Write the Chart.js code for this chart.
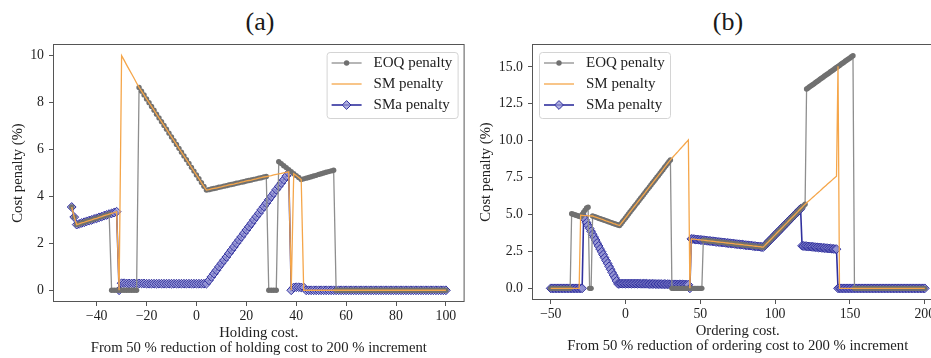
<!DOCTYPE html>
<html lang="en">
<head>
  <meta charset="UTF-8" />
  <title>Cost penalty sensitivity</title>
  <script src="https://cdn.jsdelivr.net/npm/chart.js@4"></script>
  <style>
    body {
      margin: 0;
      width: 931px;
      height: 358px;
      overflow: hidden;
      position: relative;
      background: #fff;
      font-family: 'Liberation Serif', serif;
    }
    canvas { position: absolute; top: 0; }
    .tag {
      position: absolute;
      top: 9px;
      font-size: 26px;
      line-height: 26px;
      color: #1a1a1a;
      transform: translateX(-50%);
    }
  </style>
</head>
<body>
  <div class="tag" style="left:260px">(a)</div>
  <div class="tag" style="left:728px">(b)</div>
  <canvas id="chartA" style="left:0" width="470" height="358"></canvas>
  <canvas id="chartB" style="left:465px" width="484" height="358"></canvas>

  <script>
    // ---- panel (a): holding cost ----
    const xA = [
      -50,-49,-48,-47,-46,-45,-44,-43,-42,-41,
      -40,-39,-38,-37,-36,-35,-34,-33,-32,-31,
      -30,-29,-28,-27,-26,-25,-24,-23,-22,-21,
      -20,-19,-18,-17,-16,-15,-14,-13,-12,-11,
      -10,-9,-8,-7,-6,-5,-4,-3,-2,-1,
      0,1,2,3,4,5,6,7,8,9,
      10,11,12,13,14,15,16,17,18,19,
      20,21,22,23,24,25,26,27,28,29,
      30,31,32,33,34,35,36,37,38,39,
      40,41,42,43,44,45,46,47,48,49,
      50,51,52,53,54,55,56,57,58,59,
      60,61,62,63,64,65,66,67,68,69,
      70,71,72,73,74,75,76,77,78,79,
      80,81,82,83,84,85,86,87,88,89,
      90,91,92,93,94,95,96,97,98,99,
      100
    ];
    const eoqA = [
      3.55,3.12,2.80,2.83,2.87,2.90,2.94,2.97,3.00,3.04,
      3.07,3.11,3.14,3.18,3.21,3.25,0,0,0,0,
      0,0,0,0,0,0,0,8.65,8.49,8.33,
      8.16,8.00,7.84,7.68,7.51,7.35,7.19,7.03,6.87,6.70,
      6.54,6.38,6.22,6.05,5.89,5.73,5.57,5.41,5.24,5.08,
      4.92,4.76,4.59,4.43,4.27,4.29,4.32,4.34,4.36,4.39,
      4.41,4.44,4.46,4.49,4.51,4.53,4.56,4.58,4.61,4.63,
      4.66,4.68,4.70,4.73,4.75,4.78,4.80,4.83,4.85,0,
      0,0,0,5.48,5.40,5.31,5.23,5.14,5.06,4.97,
      4.89,4.81,4.72,4.75,4.78,4.81,4.84,4.87,4.90,4.94,
      4.97,5.00,5.03,5.06,5.09,5.12,0,0,0,0,
      0,0,0,0,0,0,0,0,0,0,
      0,0,0,0,0,0,0,0,0,0,
      0,0,0,0,0,0,0,0,0,0,
      0,0,0,0,0,0,0,0,0,0,
      0
    ];
    const smA = [
      3.55,3.12,2.80,2.83,2.87,2.90,2.94,2.97,3.00,3.04,
      3.07,3.11,3.14,3.18,3.21,3.25,3.28,3.31,3.35,0,
      10.0,9.81,9.61,9.42,9.23,9.04,8.84,8.65,8.49,8.33,
      8.16,8.00,7.84,7.68,7.51,7.35,7.19,7.03,6.87,6.70,
      6.54,6.38,6.22,6.05,5.89,5.73,5.57,5.41,5.24,5.08,
      4.92,4.76,4.59,4.43,4.27,4.29,4.32,4.34,4.36,4.39,
      4.41,4.44,4.46,4.49,4.51,4.53,4.56,4.58,4.61,4.63,
      4.66,4.68,4.70,4.73,4.75,4.78,4.80,4.83,4.85,4.87,
      4.89,4.92,4.94,4.96,4.98,5.01,5.03,5.05,0,4.97,
      4.89,4.81,4.72,0,0,0,0,0,0,0,
      0,0,0,0,0,0,0,0,0,0,
      0,0,0,0,0,0,0,0,0,0,
      0,0,0,0,0,0,0,0,0,0,
      0,0,0,0,0,0,0,0,0,0,
      0,0,0,0,0,0,0,0,0,0,
      0
    ];
    const smaA = [
      3.55,3.12,2.80,2.83,2.87,2.90,2.94,2.97,3.00,3.04,
      3.07,3.11,3.14,3.18,3.21,3.25,3.28,3.31,3.35,0,
      0.30,0.30,0.29,0.29,0.29,0.29,0.29,0.29,0.29,0.29,
      0.28,0.28,0.28,0.28,0.28,0.28,0.28,0.28,0.28,0.28,
      0.28,0.28,0.28,0.28,0.28,0.28,0.28,0.28,0.28,0.28,
      0.28,0.28,0.28,0.28,0.28,0.42,0.57,0.71,0.85,1.00,
      1.14,1.28,1.42,1.57,1.71,1.85,2.00,2.14,2.28,2.43,
      2.57,2.71,2.85,3.00,3.14,3.28,3.43,3.57,3.71,3.86,
      4.00,4.14,4.29,4.43,4.57,4.71,4.86,5.00,0,0.12,
      0.13,0.13,0.12,0.12,0,0,0,0,0,0,
      0,0,0,0,0,0,0,0,0,0,
      0,0,0,0,0,0,0,0,0,0,
      0,0,0,0,0,0,0,0,0,0,
      0,0,0,0,0,0,0,0,0,0,
      0,0,0,0,0,0,0,0,0,0,
      0
    ];
    const xTicksA = [-40, -20, 0, 20, 40, 60, 80, 100];
    const yTicksA = [0, 2, 4, 6, 8, 10];

    // ---- panel (b): ordering cost ----
    const xB = [
      -50,-49,-48,-47,-46,-45,-44,-43,-42,-41,
      -40,-39,-38,-37,-36,-35,-34,-33,-32,-31,
      -30,-29,-28,-27,-26,-25,-24,-23,-22,-21,
      -20,-19,-18,-17,-16,-15,-14,-13,-12,-11,
      -10,-9,-8,-7,-6,-5,-4,-3,-2,-1,
      0,1,2,3,4,5,6,7,8,9,
      10,11,12,13,14,15,16,17,18,19,
      20,21,22,23,24,25,26,27,28,29,
      30,31,32,33,34,35,36,37,38,39,
      40,41,42,43,44,45,46,47,48,49,
      50,51,52,53,54,55,56,57,58,59,
      60,61,62,63,64,65,66,67,68,69,
      70,71,72,73,74,75,76,77,78,79,
      80,81,82,83,84,85,86,87,88,89,
      90,91,92,93,94,95,96,97,98,99,
      100,101,102,103,104,105,106,107,108,109,
      110,111,112,113,114,115,116,117,118,119,
      120,121,122,123,124,125,126,127,128,129,
      130,131,132,133,134,135,136,137,138,139,
      140,141,142,143,144,145,146,147,148,149,
      150,151,152,153,154,155,156,157,158,159,
      160,161,162,163,164,165,166,167,168,169,
      170,171,172,173,174,175,176,177,178,179,
      180,181,182,183,184,185,186,187,188,189,
      190,191,192,193,194,195,196,197,198,199,
      200
    ];
    const eoqB = [
      0,0,0,0,0,0,0,0,0,0,
      0,0,0,0,5.05,5.02,4.98,4.95,4.92,4.88,
      4.85,5.00,5.15,5.30,5.45,5.50,0,0,4.90,4.86,
      4.83,4.79,4.75,4.72,4.68,4.65,4.61,4.57,4.54,4.50,
      4.47,4.43,4.39,4.36,4.32,4.29,4.25,4.38,4.51,4.64,
      4.77,4.90,5.04,5.17,5.30,5.43,5.56,5.69,5.82,5.95,
      6.08,6.21,6.34,6.47,6.61,6.74,6.87,7.00,7.13,7.26,
      7.39,7.52,7.65,7.78,7.91,8.04,8.18,8.31,8.44,8.57,
      8.70,0,0,0,0,0,0,0,0,0,
      0,0,0,0,0,0,0,0,0,0,
      0,0,3.26,3.25,3.24,3.22,3.21,3.20,3.19,3.18,
      3.17,3.15,3.14,3.13,3.12,3.11,3.10,3.08,3.07,3.06,
      3.05,3.04,3.03,3.01,3.00,2.99,2.98,2.97,2.96,2.94,
      2.93,2.92,2.91,2.90,2.89,2.87,2.86,2.85,2.84,2.83,
      2.82,2.80,2.79,2.89,3.00,3.10,3.21,3.31,3.41,3.52,
      3.62,3.73,3.83,3.93,4.04,4.14,4.25,4.35,4.45,4.56,
      4.66,4.77,4.87,4.97,5.08,5.18,5.29,5.39,5.49,5.60,
      5.70,13.50,13.57,13.65,13.72,13.79,13.86,13.94,14.01,14.08,
      14.16,14.23,14.30,14.38,14.45,14.52,14.59,14.67,14.74,14.81,
      14.89,14.96,15.03,15.10,15.18,15.25,15.32,15.40,15.47,15.54,
      15.61,15.69,15.76,0,0,0,0,0,0,0,
      0,0,0,0,0,0,0,0,0,0,
      0,0,0,0,0,0,0,0,0,0,
      0,0,0,0,0,0,0,0,0,0,
      0,0,0,0,0,0,0,0,0,0,
      0
    ];
    const smB = [
      0,0,0,0,0,0,0,0,0,0,
      0,0,0,0,0,0,0,0,0,0,
      4.95,4.94,4.93,4.93,4.92,4.91,4.91,4.90,4.90,4.86,
      4.83,4.79,4.75,4.72,4.68,4.65,4.61,4.57,4.54,4.50,
      4.47,4.43,4.39,4.36,4.32,4.29,4.25,4.38,4.51,4.64,
      4.77,4.90,5.04,5.17,5.30,5.43,5.56,5.69,5.82,5.95,
      6.08,6.21,6.34,6.47,6.61,6.74,6.87,7.00,7.13,7.26,
      7.39,7.52,7.65,7.78,7.91,8.04,8.18,8.31,8.44,8.57,
      8.70,8.81,8.93,9.04,9.15,9.26,9.38,9.49,9.60,9.71,
      9.83,9.94,10.05,0,3.35,3.34,3.33,3.31,3.30,3.29,
      3.28,3.27,3.26,3.25,3.24,3.22,3.21,3.20,3.19,3.18,
      3.17,3.15,3.14,3.13,3.12,3.11,3.10,3.08,3.07,3.06,
      3.05,3.04,3.03,3.01,3.00,2.99,2.98,2.97,2.96,2.94,
      2.93,2.92,2.91,2.90,2.89,2.87,2.86,2.85,2.84,2.83,
      2.82,2.80,2.79,2.89,3.00,3.10,3.21,3.31,3.41,3.52,
      3.62,3.73,3.83,3.93,4.04,4.14,4.25,4.35,4.45,4.56,
      4.66,4.77,4.87,4.97,5.08,5.18,5.29,5.39,5.49,5.60,
      5.70,5.79,5.88,5.97,6.06,6.15,6.24,6.33,6.42,6.51,
      6.60,6.70,6.79,6.88,6.97,7.06,7.15,7.24,7.33,7.42,
      7.51,7.60,15.05,0,0,0,0,0,0,0,
      0,0,0,0,0,0,0,0,0,0,
      0,0,0,0,0,0,0,0,0,0,
      0,0,0,0,0,0,0,0,0,0,
      0,0,0,0,0,0,0,0,0,0,
      0,0,0,0,0,0,0,0,0,0,
      0
    ];
    const smaB = [
      0,0,0,0,0,0,0,0,0,0,
      0,0,0,0,0,0,0,0,0,0,
      0,0,4.85,4.65,4.45,4.26,4.06,3.86,3.66,3.47,
      3.27,3.07,2.87,2.67,2.48,2.28,2.08,1.88,1.69,1.49,
      1.29,1.09,0.89,0.70,0.50,0.30,0.32,0.32,0.32,0.32,
      0.32,0.32,0.32,0.32,0.32,0.32,0.32,0.32,0.32,0.32,
      0.31,0.31,0.31,0.31,0.31,0.30,0.30,0.30,0.30,0.30,
      0.29,0.29,0.29,0.29,0.29,0.28,0.28,0.28,0.28,0.28,
      0.27,0.27,0.27,0.27,0.27,0.26,0.26,0.26,0.26,0.26,
      0.25,0.25,0.24,0,3.35,3.34,3.33,3.31,3.30,3.29,
      3.28,3.27,3.26,3.25,3.24,3.22,3.21,3.20,3.19,3.18,
      3.17,3.15,3.14,3.13,3.12,3.11,3.10,3.08,3.07,3.06,
      3.05,3.04,3.03,3.01,3.00,2.99,2.98,2.97,2.96,2.94,
      2.93,2.92,2.91,2.90,2.89,2.87,2.86,2.85,2.84,2.83,
      2.82,2.80,2.79,2.89,3.00,3.10,3.21,3.31,3.41,3.52,
      3.62,3.73,3.83,3.93,4.04,4.14,4.25,4.35,4.45,4.56,
      4.66,4.77,4.87,4.97,5.08,5.18,5.29,5.39,2.88,2.87,
      2.86,2.85,2.84,2.83,2.82,2.81,2.80,2.79,2.78,2.77,
      2.76,2.75,2.74,2.73,2.72,2.71,2.70,2.69,2.68,2.67,
      2.66,2.65,0,0,0,0,0,0,0,0,
      0,0,0,0,0,0,0,0,0,0,
      0,0,0,0,0,0,0,0,0,0,
      0,0,0,0,0,0,0,0,0,0,
      0,0,0,0,0,0,0,0,0,0,
      0,0,0,0,0,0,0,0,0,0,
      0
    ];
    const xTicksB = [-50, 0, 50, 100, 150, 200];
    const yTicksB = [0, 2.5, 5, 7.5, 10, 12.5, 15];

    [[xA, eoqA, smA, smaA], [xB, eoqB, smB, smaB]].forEach(set => {
      set.forEach(arr => {
        if (arr.length !== set[0].length) throw new Error('length mismatch ' + arr.length + ' vs ' + set[0].length);
      });
    });

    const FRAME = '#555';
    const TEXT = '#222';
    const GREY_LINE = '#8e8e8e';
    const GREY_PT = '#707070';
    const ORANGE = '#f5a64a';
    const BLUE = '#30309e';
    const LAVENDER = 'rgba(150,150,212,0.75)';
    const SERIF = "'Liberation Serif', 'DejaVu Serif', serif";

    const minus = v => (v < 0 ? '\u2212' + Math.abs(v) : String(v));

    // full box around the plot area, like matplotlib spines
    const framePlugin = {
      id: 'frame',
      afterDatasetsDraw(chart) {
        const { ctx, chartArea: a } = chart;
        ctx.save();
        ctx.strokeStyle = FRAME;
        ctx.lineWidth = 1;
        ctx.strokeRect(a.left + 0.5, a.top + 0.5, a.right - a.left - 1, a.bottom - a.top - 1);
        ctx.restore();
      }
    };

    // legend box drawn inside the axes
    const boxLegend = {
      id: 'boxLegend',
      afterDraw(chart, args, opts) {
        const { ctx, chartArea: a } = chart;
        const w = 131, h = 66;
        const left = opts.corner === 'ne' ? a.right - 7 - w : a.left + 7;
        const top = a.top + 8;
        ctx.save();
        ctx.beginPath();
        ctx.roundRect(left + 0.5, top + 0.5, w, h, 3);
        ctx.fillStyle = 'rgba(255,255,255,0.85)';
        ctx.fill();
        ctx.strokeStyle = '#d4d4d4';
        ctx.lineWidth = 1;
        ctx.stroke();
        chart.data.datasets.forEach((ds, i) => {
          const y = top + 11 + i * 21;
          const cx = left + 20;
          ctx.beginPath();
          ctx.moveTo(left + 5, y);
          ctx.lineTo(left + 35, y);
          ctx.strokeStyle = ds.borderColor;
          ctx.lineWidth = ds.borderWidth;
          ctx.stroke();
          if (ds.pointRadius > 0) {
            const r = ds.pointRadius;
            ctx.beginPath();
            if (ds.pointStyle === 'rectRot') {
              ctx.moveTo(cx, y - r); ctx.lineTo(cx + r, y); ctx.lineTo(cx, y + r); ctx.lineTo(cx - r, y); ctx.closePath();
            } else {
              ctx.arc(cx, y, r, 0, Math.PI * 2);
            }
            ctx.fillStyle = ds.pointBackgroundColor;
            ctx.fill();
            if (ds.pointBorderWidth > 0) {
              ctx.strokeStyle = ds.pointBorderColor;
              ctx.lineWidth = ds.pointBorderWidth;
              ctx.stroke();
            }
          }
          ctx.fillStyle = TEXT;
          ctx.font = '15px ' + SERIF;
          ctx.textBaseline = 'middle';
          ctx.fillText(ds.label, left + 47, y);
        });
        ctx.restore();
      }
    };

    function makeChart(id, c) {
      const pts = ys => c.x.map((x, i) => ({ x: x, y: ys[i] }));
      const tickFont = { family: SERIF, size: 13.8 };
      const titleFont = { family: SERIF, size: 14.7, lineHeight: '15px' };
      return new Chart(document.getElementById(id), {
        type: 'line',
        data: {
          datasets: [
            {
              label: 'EOQ penalty', data: pts(c.eoq), order: 2,
              borderColor: GREY_LINE, borderWidth: 1.3,
              pointStyle: 'circle', pointRadius: 2.7,
              pointBackgroundColor: GREY_PT, pointBorderColor: GREY_PT, pointBorderWidth: 0
            },
            {
              label: 'SM penalty', data: pts(c.sm), order: 1,
              borderColor: ORANGE, borderWidth: 1.3, pointRadius: 0
            },
            {
              label: 'SMa penalty', data: pts(c.sma), order: 3,
              borderColor: BLUE, borderWidth: 1.6,
              pointStyle: 'rectRot', pointRadius: 4.4,
              pointBackgroundColor: LAVENDER, pointBorderColor: BLUE, pointBorderWidth: 1
            }
          ]
        },
        options: {
          responsive: false,
          animation: false,
          events: [],
          layout: { padding: { top: 44, right: c.padRight, bottom: 0, left: 0 } },
          elements: { line: { tension: 0 } },
          plugins: {
            legend: { display: false },
            tooltip: { enabled: false },
            boxLegend: { corner: c.corner }
          },
          scales: {
            x: {
              type: 'linear', min: c.xMin, max: c.xMax,
              afterBuildTicks: s => { s.ticks = c.xTicks.map(v => ({ value: v })); },
              afterFit: s => { s.height = c.xHeight; },
              grid: { drawOnChartArea: false, drawTicks: true, tickLength: 4, color: FRAME },
              border: { display: false },
              ticks: { autoSkip: false, maxRotation: 0, padding: 2, color: TEXT, font: tickFont, callback: v => minus(v) },
              title: { display: true, text: c.xTitle, color: TEXT, font: titleFont, padding: { top: 0, bottom: c.xTitlePad } }
            },
            y: {
              type: 'linear', min: c.yMin, max: c.yMax,
              afterBuildTicks: s => { s.ticks = c.yTicks.map(v => ({ value: v })); },
              afterFit: s => { s.width = c.yWidth; },
              grid: { drawOnChartArea: false, drawTicks: true, tickLength: 4, color: FRAME },
              border: { display: false },
              ticks: { autoSkip: false, padding: 5, color: TEXT, font: tickFont, callback: c.yFormat },
              title: { display: true, text: 'Cost penalty (%)', color: TEXT, font: titleFont, padding: { top: c.yTitlePad, bottom: 0 } }
            }
          }
        },
        plugins: [framePlugin, boxLegend]
      });
    }

    // canvases are 5px wider than the axes box; Chart.js keeps ~5px free on the right
    makeChart('chartA', {
      x: xA, eoq: eoqA, sm: smA, sma: smaA,
      xMin: -57.5, xMax: 107.5, yMin: -0.5, yMax: 10.5,
      xTicks: xTicksA, yTicks: yTicksA, yFormat: v => String(v),
      xTitle: ['Holding cost.', 'From 50 % reduction of holding cost to 200 % increment'],
      padRight: 5, yWidth: 53, xHeight: 56, xTitlePad: 2.5, yTitlePad: 10.5, corner: 'ne'
    });

    makeChart('chartB', {
      x: xB, eoq: eoqB, sm: smB, sma: smaB,
      xMin: -62.5, xMax: 212.5, yMin: -0.79, yMax: 16.55,
      xTicks: xTicksB, yTicks: yTicksB, yFormat: v => v.toFixed(1),
      xTitle: ['Ordering cost.', 'From 50 % reduction of ordering cost to 200 % increment'],
      padRight: 5.5, yWidth: 67, xHeight: 58, xTitlePad: 4, yTitlePad: 13.5, corner: 'nw'
    });
  </script>
</body>
</html>
